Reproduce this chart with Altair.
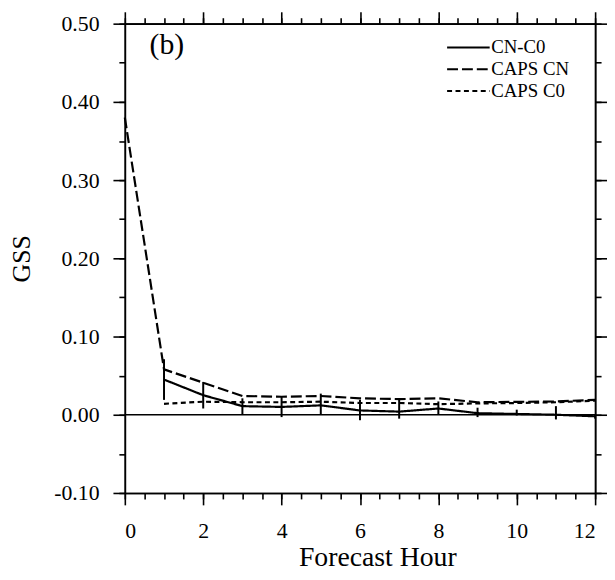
import altair as alt
import pandas as pd

# ---------------- data ----------------
hours_cn = list(range(0, 13))
caps_cn = [0.380, 0.058, 0.041, 0.024, 0.023, 0.024, 0.021, 0.020, 0.021, 0.016, 0.0165, 0.017, 0.019]

hours_c0 = list(range(1, 13))
cn_c0 = [0.045, 0.025, 0.011, 0.010, 0.012, 0.0055, 0.004, 0.008, 0.002, 0.001, 0.0, -0.002]
cn_c0_low = [0.019, 0.008, 0.0, -0.003, 0.0, -0.007, -0.005, 0.0, -0.003, -0.001, -0.006, -0.005]
cn_c0_high = [0.071, 0.042, 0.021, 0.024, 0.027, 0.019, 0.019, 0.017, 0.009, 0.0065, 0.011, 0.001]
caps_c0 = [0.014, 0.0167, 0.016, 0.016, 0.0167, 0.015, 0.015, 0.0135, 0.0145, 0.015, 0.016, 0.018]

series_names = ["CN-C0", "CAPS CN", "CAPS C0"]
zero_line = [0.0]
panel_label = ["(b)"]

x_major = [0, 2, 4, 6, 8, 10, 12]
x_minor = [i * 0.5 for i in range(25)]
y_major = [-0.1, 0.0, 0.1, 0.2, 0.3, 0.4, 0.5]
y_minor = [round(-0.1 + i * 0.05, 2) for i in range(13)]

FONT = "Liberation Serif"

# ---------------- tables ----------------
lines_df = pd.concat([
    pd.DataFrame({"hour": hours_c0, "gss": cn_c0, "series": series_names[0]}),
    pd.DataFrame({"hour": hours_cn, "gss": caps_cn, "series": series_names[1]}),
    pd.DataFrame({"hour": hours_c0, "gss": caps_c0, "series": series_names[2]}),
], ignore_index=True)
err_df = pd.DataFrame({"hour": hours_c0, "low": cn_c0_low, "high": cn_c0_high})
zero_df = pd.DataFrame({"gss": zero_line})
label_df = pd.DataFrame({"t": panel_label})

xscale = alt.Scale(domain=[0, 12], nice=False, zero=False)
yscale = alt.Scale(domain=[-0.1, 0.5], nice=False, zero=False)


def ax(orient, values, size, labels=False, title=None, **kw):
    return alt.Axis(orient=orient, values=values, tickSize=size, labels=labels,
                    title=title, grid=False, domainColor="black", domainWidth=1.6,
                    tickColor="black", tickWidth=1.6, **kw)


x_main = ax("bottom", x_major, 12, labels=True, title="Forecast Hour",
            labelFont=FONT, labelFontSize=22, labelColor="black", labelPadding=16,
            titleFont=FONT, titleFontSize=28, titleFontWeight="normal", titleColor="black",
            titleX=255, titleY=73, titleBaseline="alphabetic")
y_main = ax("left", y_major, 12, labels=True, title="GSS",
            labelExpr="datum.value < 0 ? '-' + format(-datum.value, '.2f') : format(datum.value, '.2f')",
            labelFont=FONT, labelFontSize=22, labelColor="black", labelPadding=14,
            titleFont=FONT, titleFontSize=26, titleFontWeight="normal", titleColor="black",
            titleX=-96, titleY=237, titleAngle=-90, titleBaseline="alphabetic", titleAlign="center")

# layer 1: zero line with main (labelled) y axis
zero_layer = alt.Chart(zero_df).mark_rule(color="black", strokeWidth=1.6).encode(
    y=alt.Y("gss:Q", scale=yscale, axis=y_main),
)
# invisible anchor carrying the labelled bottom axis and the left minor ticks
x_anchor = alt.Chart(err_df).mark_point(opacity=0).encode(
    x=alt.X("hour:Q", scale=xscale, axis=x_main),
    y=alt.Y("low:Q", scale=yscale, axis=ax("left", y_minor, 6)),
)

err_layer = alt.Chart(err_df).mark_rule(color="black", strokeWidth=2).encode(
    x=alt.X("hour:Q", scale=xscale, axis=ax("bottom", x_minor, 6)),
    y=alt.Y("low:Q", scale=yscale, axis=ax("right", y_major, 12)),
    y2="high:Q",
)

line_layer = alt.Chart(lines_df).mark_line(color="black", strokeWidth=2.2).encode(
    x=alt.X("hour:Q", scale=xscale, axis=ax("top", x_major, 12)),
    y=alt.Y("gss:Q", scale=yscale, axis=ax("right", y_minor, 6)),
    strokeDash=alt.StrokeDash(
        "series:N",
        scale=alt.Scale(domain=series_names, range=[[1, 0], [11, 4], [5, 3.5]]),
        legend=alt.Legend(title=None, orient="none", legendX=335, legendY=12,
                          symbolType="M-2,0H2", symbolSize=462, symbolStrokeWidth=2,
                          symbolStrokeColor="black", symbolFillColor="transparent",
                          labelFont=FONT, labelFontSize=19,
                          labelColor="black", labelOffset=11, rowPadding=0),
    ),
    detail="series:N",
)

top_minor = alt.Chart(lines_df).mark_point(opacity=0).encode(
    x=alt.X("hour:Q", scale=xscale, axis=ax("top", x_minor, 6)),
)

label_layer = alt.Chart(label_df).mark_text(
    font=FONT, fontSize=30, color="black", align="left", baseline="middle"
).encode(x=alt.value(25), y=alt.value(22), text="t:N")

chart = alt.layer(
    zero_layer, x_anchor, err_layer, line_layer, top_minor, label_layer
).resolve_axis(x="independent", y="independent").properties(
    width=475, height=474,
    autosize=alt.AutoSizeParams(type="none"),
    padding={"left": 118, "top": 13, "right": 12, "bottom": 77},
).configure_view(stroke=None)

chart.save("out.html", embed_options={"renderer": "svg", "actions": False})
